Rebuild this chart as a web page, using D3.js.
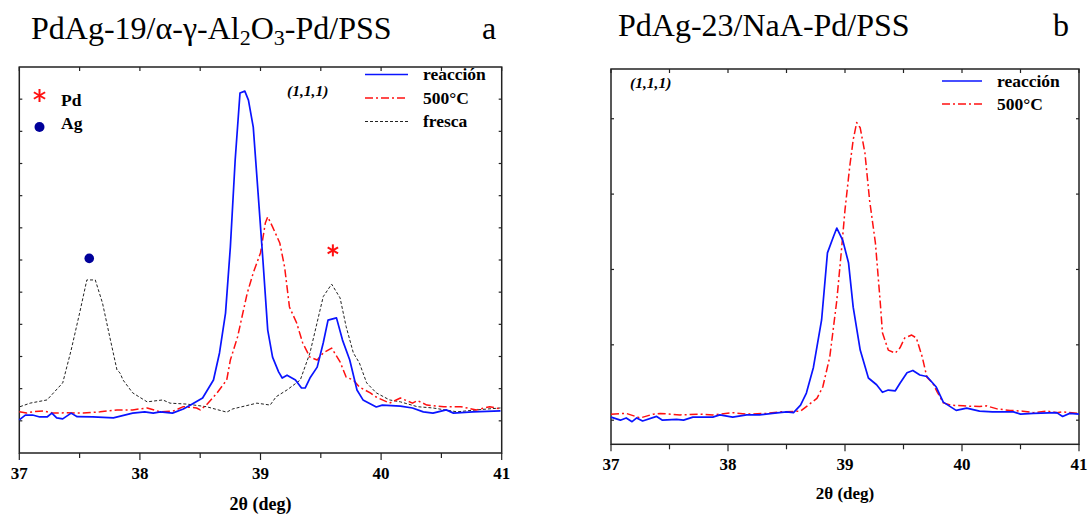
<!DOCTYPE html>
<html><head><meta charset="utf-8">
<script src="https://cdn.jsdelivr.net/npm/d3@7"></script>
<style>
body{margin:0;background:#fff}
svg{display:block}
text{font-family:"Liberation Serif","Times New Roman",serif}
</style>
</head><body>
<svg id="c" width="1088" height="515"></svg>
<script>
// ---------- data ----------
const xTicksMajor = [37, 38, 39, 40, 41];
const xTicksMinor = [37.5, 38.5, 39.5, 40.5];
const xTickLabels = ["37", "38", "39", "40", "41"];
const legendLabels = ["reacción", "500°C", "fresca"];

// panel a: PdAg-19/α-γ-Al2O3-Pd/PSS
const aReaccionX = [37.0,37.05,37.11,37.17,37.23,37.27,37.31,37.36,37.43,37.48,37.61,37.78,37.94,38.04,38.11,38.17,38.27,38.36,38.42,38.52,38.61,38.66,38.71,38.75,38.79,38.83,38.87,38.90,38.94,38.98,39.02,39.06,39.10,39.15,39.18,39.22,39.29,39.34,39.37,39.41,39.47,39.52,39.56,39.63,39.68,39.74,39.80,39.85,39.96,40.01,40.16,40.26,40.35,40.43,40.54,40.60,40.76,40.99];
const aReaccionY = [1.03,1.18,1.18,1.12,1.12,1.24,1.09,1.06,1.24,1.13,1.12,1.09,1.24,1.28,1.24,1.28,1.24,1.37,1.49,1.71,2.27,3.11,4.35,6.40,9.11,11.19,11.25,10.97,10.13,8.08,6.00,3.82,2.98,2.52,2.33,2.42,2.27,2.02,2.02,2.33,2.67,3.42,4.13,4.20,3.51,2.89,1.96,1.65,1.43,1.49,1.46,1.40,1.28,1.24,1.34,1.24,1.28,1.31];
const a500X = [37.0,37.06,37.11,37.20,37.28,37.39,37.53,37.67,37.81,37.94,38.06,38.17,38.28,38.36,38.47,38.50,38.55,38.64,38.72,38.75,38.81,38.89,38.94,39.00,39.04,39.06,39.10,39.16,39.20,39.24,39.30,39.35,39.41,39.47,39.52,39.59,39.66,39.71,39.77,39.82,39.91,39.96,40.07,40.16,40.26,40.30,40.38,40.52,40.66,40.79,40.90,40.99];
const a500Y = [1.28,1.24,1.28,1.31,1.24,1.25,1.24,1.28,1.34,1.34,1.40,1.28,1.31,1.44,1.40,1.34,1.49,1.87,2.27,2.89,3.61,4.97,5.60,6.22,7.15,7.34,7.03,6.53,5.78,4.54,4.04,3.42,2.98,2.89,3.11,3.26,2.83,2.36,2.27,2.05,1.87,1.74,1.55,1.71,1.55,1.63,1.49,1.44,1.44,1.34,1.44,1.37];
const aFrescaX = [37.006,37.09,37.23,37.36,37.43,37.50,37.56,37.63,37.69,37.75,37.81,37.835,37.86,37.94,38.06,38.19,38.25,38.39,38.55,38.72,38.77,38.97,39.08,39.13,39.22,39.33,39.41,39.52,39.59,39.66,39.71,39.77,39.82,39.88,39.96,40.07,40.16,40.30,40.43,40.63,40.79,40.99];
const aFrescaY = [1.44,1.55,1.65,2.18,3.20,4.35,5.38,5.38,4.66,3.61,2.58,2.49,2.27,1.87,1.59,1.65,1.55,1.52,1.44,1.27,1.37,1.55,1.49,1.75,1.96,2.27,3.11,4.86,5.25,4.82,3.93,3.11,2.80,2.18,1.87,1.65,1.59,1.44,1.40,1.28,1.34,1.40];
const aAgMarker = [37.58, 6.05];
const aPdMarker = [39.60, 6.30];

// panel b: PdAg-23/NaA-Pd/PSS
const bReaccionX = [37.00,37.08,37.13,37.18,37.22,37.27,37.39,37.44,37.56,37.62,37.70,37.87,37.93,38.04,38.16,38.27,38.38,38.50,38.56,38.62,38.67,38.73,38.80,38.85,38.90,38.93,38.98,39.03,39.07,39.13,39.20,39.27,39.32,39.37,39.43,39.47,39.53,39.58,39.64,39.70,39.74,39.78,39.84,39.95,40.04,40.15,40.26,40.44,40.50,40.61,40.81,40.86,40.92,41.00];
const bReaccionY = [0.04,0.0,0.03,-0.02,0.03,-0.01,0.05,0.0,0.01,0.0,0.04,0.04,0.07,0.04,0.07,0.07,0.09,0.11,0.10,0.20,0.36,0.70,1.33,2.22,2.43,2.55,2.39,2.09,1.50,0.93,0.56,0.47,0.37,0.40,0.39,0.49,0.63,0.66,0.60,0.58,0.51,0.44,0.24,0.13,0.16,0.12,0.11,0.11,0.08,0.09,0.10,0.05,0.09,0.08];
const b500X = [37.00,37.13,37.25,37.36,37.42,37.59,37.76,37.87,38.04,38.16,38.33,38.44,38.62,38.67,38.76,38.81,38.87,38.93,38.97,39.00,39.04,39.07,39.10,39.13,39.17,39.21,39.26,39.30,39.32,39.37,39.43,39.47,39.51,39.57,39.61,39.66,39.70,39.75,39.79,39.84,39.90,40.01,40.15,40.21,40.30,40.41,40.52,40.61,40.73,40.81,40.86,41.00];
const b500Y = [0.08,0.09,0.03,0.08,0.09,0.07,0.08,0.07,0.10,0.08,0.09,0.11,0.12,0.18,0.29,0.44,0.84,1.59,2.26,2.79,3.36,3.72,3.95,3.88,3.55,2.92,2.35,1.59,1.16,0.93,0.89,0.96,1.09,1.13,1.09,0.84,0.57,0.49,0.37,0.23,0.20,0.19,0.18,0.19,0.15,0.13,0.12,0.10,0.12,0.10,0.11,0.09];

// ---------- drawing ----------
const svg = d3.select("#c");
const BLUE = "#0a14ff", RED = "#ff1010", BLACK = "#222";

function panel(o) {
  const x = d3.scaleLinear().domain([37, 41]).range([o.left, o.right]);
  const y = d3.scaleLinear().domain(o.yDomain).range([o.bottom, o.top]);
  const g = svg.append("g");
  g.append("rect").attr("x", o.left).attr("y", o.top)
    .attr("width", o.right - o.left).attr("height", o.bottom - o.top)
    .attr("fill", "none").attr("stroke", "#222").attr("stroke-width", 1.5);

  const allX = xTicksMajor.concat(xTicksMinor);
  g.append("g").selectAll("line").data(allX).join("line")
    .attr("x1", d => x(d)).attr("x2", d => x(d))
    .attr("y1", o.bottom).attr("y2", d => o.bottom + (xTicksMajor.includes(d) ? 7 : 5))
    .attr("stroke", "#222").attr("stroke-width", 1.2);
  g.append("g").selectAll("line").data(allX).join("line")
    .attr("x1", d => x(d)).attr("x2", d => x(d))
    .attr("y1", o.top).attr("y2", o.top + 4)
    .attr("stroke", "#222").attr("stroke-width", 1.2);
  g.append("g").selectAll("line").data(o.yTicks).join("line")
    .attr("x1", o.left).attr("x2", o.left + 3)
    .attr("y1", d => y(d)).attr("y2", d => y(d))
    .attr("stroke", "#222").attr("stroke-width", 1.2);
  g.append("g").selectAll("line").data(o.yTicks).join("line")
    .attr("x1", o.right).attr("x2", o.right - 3)
    .attr("y1", d => y(d)).attr("y2", d => y(d))
    .attr("stroke", "#222").attr("stroke-width", 1.2);
  g.append("g").selectAll("text").data(xTicksMajor).join("text")
    .attr("x", d => x(d)).attr("y", o.bottom + 26)
    .attr("text-anchor", "middle").attr("font-weight", "bold")
    .attr("font-size", 17).text((d, i) => xTickLabels[i]);
  g.append("text").attr("x", (o.left + o.right) / 2).attr("y", o.bottom + o.titleDy)
    .attr("text-anchor", "middle").attr("font-weight", "bold").attr("font-size", o.axisFs)
    .text("2θ (deg)");

  const line = d3.line().x(d => x(d[0])).y(d => y(d[1]));
  return { x, y, g, line };
}

function drawSeries(p, xs, ys, color, dash, width) {
  const pts = xs.map((v, i) => [v, ys[i]]);
  p.g.append("path").datum(pts).attr("d", p.line)
    .attr("fill", "none").attr("stroke", color).attr("stroke-width", width)
    .attr("stroke-dasharray", dash).attr("stroke-linejoin", "round");
}

function asterisk(g, cx, cy, r, color) {
  [90, 30, 150].forEach(a => {
    const rad = a * Math.PI / 180;
    g.append("line")
      .attr("x1", cx - r * Math.cos(rad)).attr("y1", cy - r * Math.sin(rad))
      .attr("x2", cx + r * Math.cos(rad)).attr("y2", cy + r * Math.sin(rad))
      .attr("stroke", color).attr("stroke-width", 2);
  });
}

// ---- Panel a ----
const pa = panel({ left: 19.3, right: 501.7, top: 67, bottom: 453,
  yDomain: [0, 12], yTicks: d3.range(1, 12), titleDy: 57, axisFs: 18 });
drawSeries(pa, aFrescaX, aFrescaY, BLACK, "3,2", 1);
drawSeries(pa, a500X, a500Y, RED, "8,3,2,3", 1.5);
drawSeries(pa, aReaccionX, aReaccionY, BLUE, null, 1.7);

pa.g.append("circle").attr("cx", pa.x(aAgMarker[0])).attr("cy", pa.y(aAgMarker[1]))
  .attr("r", 4.8).attr("fill", "#00009a");
asterisk(pa.g, pa.x(aPdMarker[0]), pa.y(aPdMarker[1]), 6, RED);

asterisk(svg, 39.5, 95.5, 6.5, RED);
svg.append("circle").attr("cx", 39.5).attr("cy", 127).attr("r", 5).attr("fill", "#00009a");
svg.append("text").attr("x", 61).attr("y", 106).attr("font-weight", "bold").attr("font-size", 17.5).text("Pd");
svg.append("text").attr("x", 61).attr("y", 129).attr("font-weight", "bold").attr("font-size", 17.5).text("Ag");

svg.append("text").attr("x", 287).attr("y", 96).attr("font-weight", "bold").attr("font-style", "italic")
  .attr("font-size", 15.5).text("(1,1,1)");

const legA = [
  { y: 80, color: BLUE, dash: null, w: 1.7 },
  { y: 103.5, color: RED, dash: "8,3,2,3", w: 1.5 },
  { y: 127, color: BLACK, dash: "3,2", w: 1 }
];
legA.forEach((d, i) => {
  svg.append("line").attr("x1", 365).attr("x2", 408).attr("y1", d.y - 5.5).attr("y2", d.y - 5.5)
    .attr("stroke", d.color).attr("stroke-width", d.w).attr("stroke-dasharray", d.dash);
  svg.append("text").attr("x", 423).attr("y", d.y).attr("font-weight", "bold").attr("font-size", 17.5).text(legendLabels[i]);
});

const ta = svg.append("text").attr("x", 31).attr("y", 39).attr("font-size", 32);
ta.append("tspan").text("PdAg-19/α-γ-Al");
ta.append("tspan").attr("dy", 6).attr("font-size", 22).text("2");
ta.append("tspan").attr("dy", -6).text("O");
ta.append("tspan").attr("dy", 6).attr("font-size", 22).text("3");
ta.append("tspan").attr("dy", -6).text("-Pd/PSS");
svg.append("text").attr("x", 482).attr("y", 39).attr("font-size", 32).text("a");

// ---- Panel b ----
const pb = panel({ left: 611, right: 1079, top: 69, bottom: 444.3,
  yDomain: [-0.32, 4.66], yTicks: [0, 1, 2, 3, 4], titleDy: 55, axisFs: 17 });
drawSeries(pb, b500X, b500Y, RED, "8,3,2,3", 1.5);
drawSeries(pb, bReaccionX, bReaccionY, BLUE, null, 1.7);

svg.append("text").attr("x", 630).attr("y", 88).attr("font-weight", "bold").attr("font-style", "italic")
  .attr("font-size", 15.5).text("(1,1,1)");

const legB = [
  { y: 86.5, color: BLUE, dash: null, w: 1.7 },
  { y: 109.5, color: RED, dash: "8,3,2,3", w: 1.5 }
];
legB.forEach((d, i) => {
  svg.append("line").attr("x1", 942).attr("x2", 982).attr("y1", d.y - 5.5).attr("y2", d.y - 5.5)
    .attr("stroke", d.color).attr("stroke-width", d.w).attr("stroke-dasharray", d.dash);
  svg.append("text").attr("x", 997).attr("y", d.y).attr("font-weight", "bold").attr("font-size", 17.5).text(legendLabels[i]);
});

svg.append("text").attr("x", 618).attr("y", 36).attr("font-size", 32).text("PdAg-23/NaA-Pd/PSS");
svg.append("text").attr("x", 1053).attr("y", 36).attr("font-size", 32).text("b");
</script>
</body></html>
